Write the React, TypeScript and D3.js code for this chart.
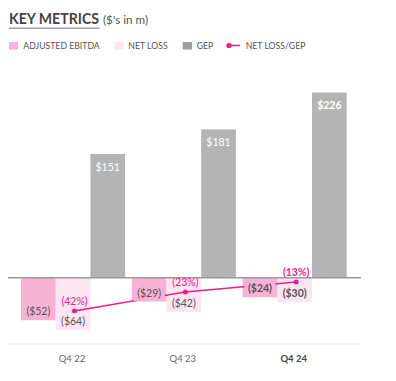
import React from "react";
import * as d3 from "d3";

const categories = ["Q4 22", "Q4 23", "Q4 24"];
const ebitda = [-52, -29, -24];
const netLoss = [-64, -42, -30];
const gep = [151, 181, 226];
const netLossPct = [-42, -23, -13];
const legendLabels = ["ADJUSTED EBITDA", "NET LOSS", "GEP", "NET LOSS/GEP"];

const W = 396;
const H = 381;
const FONT = "Lato, 'Open Sans', sans-serif";
const C_EBITDA = "#f8b2d6";
const C_NET = "#fde5f1";
const C_GEP = "#b4b4b4";
const C_GEP_LEG = "#9d9d9d";
const C_LINE = "#ee1b8a";
const C_TEXT = "#555555";

export default function App() {
  const x0 = d3.scaleBand<string>().domain(categories).range([21, 346.7]).paddingInner(0.061).paddingOuter(0);
  const series = ["ebitda", "net", "gep"];
  const x1 = d3.scaleBand<string>().domain(series).range([0, x0.bandwidth()]).padding(0);
  const y = d3.scaleLinear().domain([-81, 226]).range([344, 92.5]);
  const y2 = d3.scaleLinear().domain([-42, -13]).range([311, 282]);
  const y0 = y(0);
  const bw = x1.bandwidth();

  const linePts: [number, number][] = categories.map((c, i) => [
    (x0(c) as number) + x0.bandwidth() / 2 + 1.5,
    y2(netLossPct[i]),
  ]);
  const lineGen = d3.line();

  const negLabel = (v: number) => `($${Math.abs(v)})`;
  const last = categories.length - 1;

  return (
    <svg width={W} height={H} style={{ position: "absolute", left: 0, top: 0, background: "#fff" }} fontFamily={FONT}>
      {/* Title */}
      <text x={9} y={24} fontSize={14.5} fontWeight={700} fill="#444" textLength={90} lengthAdjust="spacingAndGlyphs">KEY METRICS</text>
      <line x1={9} x2={99.5} y1={28.2} y2={28.2} stroke="#777" strokeWidth={1} />
      <text x={103} y={24} fontSize={12} fill={C_TEXT} textLength={45} lengthAdjust="spacingAndGlyphs">($'s in m)</text>

      {/* Legend */}
      <g fontSize={8.7} fill={C_TEXT}>
        <rect x={9} y={42} width={9} height={7.5} fill={C_EBITDA} />
        <text x={23.3} y={48.6}>{legendLabels[0]}</text>
        <rect x={114.3} y={42} width={9} height={7.5} fill={C_NET} />
        <text x={128.3} y={48.6}>{legendLabels[1]}</text>
        <rect x={182.7} y={42} width={9.3} height={7.5} fill={C_GEP_LEG} />
        <text x={196.7} y={48.6}>{legendLabels[2]}</text>
        <line x1={228.3} x2={240} y1={45.5} y2={45.5} stroke={C_LINE} strokeWidth={1.5} />
        <circle cx={229} cy={45.5} r={2.6} fill={C_LINE} />
        <text x={245.7} y={48.6}>{legendLabels[3]}</text>
      </g>

      {/* bottom axis line */}
      <line x1={8} x2={361} y1={344} y2={344} stroke="#e6e6e6" strokeWidth={1} />

      {/* Bars */}
      {categories.map((c, i) => {
        const gx = x0(c) as number;
        return (
          <g key={c}>
            <rect x={gx + (x1("ebitda") as number)} y={y0} width={bw} height={y(ebitda[i]) - y0} fill={C_EBITDA} />
            <rect x={gx + (x1("net") as number)} y={y0} width={bw} height={y(netLoss[i]) - y0} fill={C_NET} />
            <rect x={gx + (x1("gep") as number)} y={y(gep[i])} width={bw} height={y0 - y(gep[i])} fill={C_GEP} />
          </g>
        );
      })}

      {/* baseline */}
      <line x1={8} x2={361} y1={y0} y2={y0} stroke="#9a9a9a" strokeWidth={1.5} />

      {/* Line */}
      <path d={lineGen(linePts) || ""} fill="none" stroke={C_LINE} strokeWidth={1.5} />
      {linePts.map((p, i) => (
        <circle key={i} cx={p[0]} cy={p[1]} r={2.5} fill={C_LINE} />
      ))}

      {/* Bar labels */}
      {categories.map((c, i) => {
        const gx = x0(c) as number;
        const bold = i === last ? 700 : 400;
        const ex = gx + (x1("ebitda") as number) + bw / 2;
        const nx = gx + (x1("net") as number) + bw / 2;
        const gxx = gx + (x1("gep") as number) + bw / 2;
        const ey = y(ebitda[i]) - 8.5;
        const ny = y(netLoss[i]) - 8.5;
        const gy = y(gep[i]) + 13;
        return (
          <g key={c} fontSize={10.5} textAnchor="middle" fontWeight={bold}>
            <rect x={ex - 15.5} y={ey - 8} width={31} height={16} fill={C_EBITDA} />
            <text x={ex} y={ey} dy="0.35em" fill={C_TEXT}>{negLabel(ebitda[i])}</text>
            <rect x={nx - 15.5} y={ny - 8} width={31} height={16} fill={C_NET} />
            <text x={nx} y={ny} dy="0.35em" fill={C_TEXT}>{negLabel(netLoss[i])}</text>
            <text x={gxx} y={gy} dy="0.35em" fill="#ffffff">{`$${gep[i]}`}</text>
            <text x={linePts[i][0]} y={linePts[i][1] - 10} dy="0.35em" fill={C_LINE}>{`(${Math.abs(netLossPct[i])}%)`}</text>
          </g>
        );
      })}

      {/* Category labels */}
      {categories.map((c, i) => (
        <text key={c} x={(x0(c) as number) + x0.bandwidth() / 2 - 1} y={362} fontSize={9.5} textAnchor="middle" fill={i === last ? "#444" : "#666"} fontWeight={i === last ? 700 : 400}>
          {c}
        </text>
      ))}
    </svg>
  );
}
